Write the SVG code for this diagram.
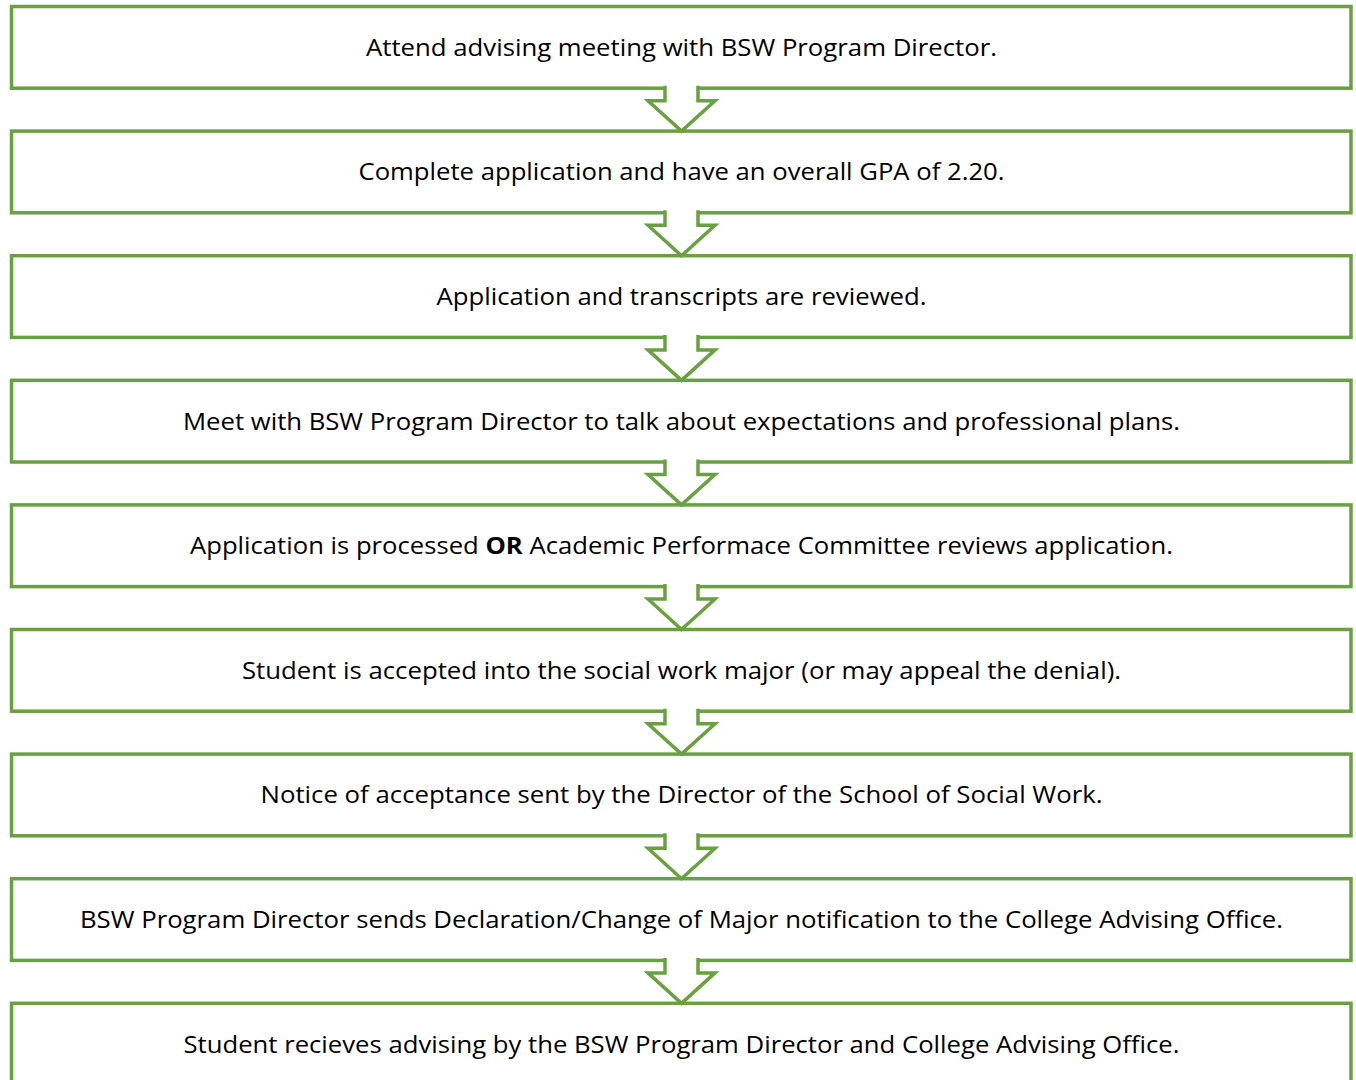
<svg xmlns="http://www.w3.org/2000/svg" width="1356" height="1080" viewBox="0 0 1356 1080">
  <style>
    .box { fill: #ffffff; stroke: #69A040; stroke-width: 3.5; }
    .lbl { font-family: "Open Sans", "Noto Sans", "Liberation Sans", sans-serif; font-size: 24px; fill: #000000; text-anchor: middle; }
    .arrow { fill: #ffffff; stroke: #69A040; stroke-width: 3.5; stroke-linejoin: miter; }
  </style>
  <rect x="0" y="0" width="1356" height="1080" fill="#ffffff"/>

  <g id="step1">
    <rect class="box" x="11.5" y="6.5" width="1339.5" height="81.7"/>
    <text class="lbl" x="681.5" y="55.7" textLength="631" lengthAdjust="spacingAndGlyphs">Attend advising meeting with BSW Program Director.</text>
  </g>
  <g id="step2">
    <rect class="box" x="11.5" y="131.1" width="1339.5" height="81.7"/>
    <text class="lbl" x="681.5" y="180.3" textLength="646" lengthAdjust="spacingAndGlyphs">Complete application and have an overall GPA of 2.20.</text>
  </g>
  <g id="step3">
    <rect class="box" x="11.5" y="255.7" width="1339.5" height="81.7"/>
    <text class="lbl" x="681.5" y="304.9" textLength="490" lengthAdjust="spacingAndGlyphs">Application and transcripts are reviewed.</text>
  </g>
  <g id="step4">
    <rect class="box" x="11.5" y="380.3" width="1339.5" height="81.7"/>
    <text class="lbl" x="681.5" y="429.5" textLength="997" lengthAdjust="spacingAndGlyphs">Meet with BSW Program Director to talk about expectations and professional plans.</text>
  </g>
  <g id="step5">
    <rect class="box" x="11.5" y="504.9" width="1339.5" height="81.7"/>
    <text class="lbl" x="681.5" y="554.1" textLength="983" lengthAdjust="spacingAndGlyphs">Application is processed <tspan font-weight="bold">OR</tspan> Academic Performace Committee reviews application.</text>
  </g>
  <g id="step6">
    <rect class="box" x="11.5" y="629.5" width="1339.5" height="81.7"/>
    <text class="lbl" x="681.5" y="678.7" textLength="879" lengthAdjust="spacingAndGlyphs">Student is accepted into the social work major (or may appeal the denial).</text>
  </g>
  <g id="step7">
    <rect class="box" x="11.5" y="754.1" width="1339.5" height="81.7"/>
    <text class="lbl" x="681.5" y="803.3" textLength="842" lengthAdjust="spacingAndGlyphs">Notice of acceptance sent by the Director of the School of Social Work.</text>
  </g>
  <g id="step8">
    <rect class="box" x="11.5" y="878.7" width="1339.5" height="81.7"/>
    <text class="lbl" x="681.5" y="927.9" textLength="1203" lengthAdjust="spacingAndGlyphs">BSW Program Director sends Declaration/Change of Major notification to the College Advising Office.</text>
  </g>
  <g id="step9">
    <rect class="box" x="11.5" y="1003.3" width="1339.5" height="81.7"/>
    <text class="lbl" x="681.5" y="1052.5" textLength="996" lengthAdjust="spacingAndGlyphs">Student recieves advising by the BSW Program Director and College Advising Office.</text>
  </g>

  <!-- block arrows between consecutive steps; white fill hides the box edge under the shaft -->
  <g id="connectors">
    <path class="arrow" d="M665,85.7 L665,100.7 L648,100.7 L681.5,131.1 L715,100.7 L698,100.7 L698,85.7"/>
    <path class="arrow" d="M665,210.3 L665,225.3 L648,225.3 L681.5,255.7 L715,225.3 L698,225.3 L698,210.3"/>
    <path class="arrow" d="M665,334.9 L665,349.9 L648,349.9 L681.5,380.3 L715,349.9 L698,349.9 L698,334.9"/>
    <path class="arrow" d="M665,459.5 L665,474.5 L648,474.5 L681.5,504.9 L715,474.5 L698,474.5 L698,459.5"/>
    <path class="arrow" d="M665,584.1 L665,599.1 L648,599.1 L681.5,629.5 L715,599.1 L698,599.1 L698,584.1"/>
    <path class="arrow" d="M665,708.7 L665,723.7 L648,723.7 L681.5,754.1 L715,723.7 L698,723.7 L698,708.7"/>
    <path class="arrow" d="M665,833.3 L665,848.3 L648,848.3 L681.5,878.7 L715,848.3 L698,848.3 L698,833.3"/>
    <path class="arrow" d="M665,957.9 L665,972.9 L648,972.9 L681.5,1003.3 L715,972.9 L698,972.9 L698,957.9"/>
  </g>
</svg>
